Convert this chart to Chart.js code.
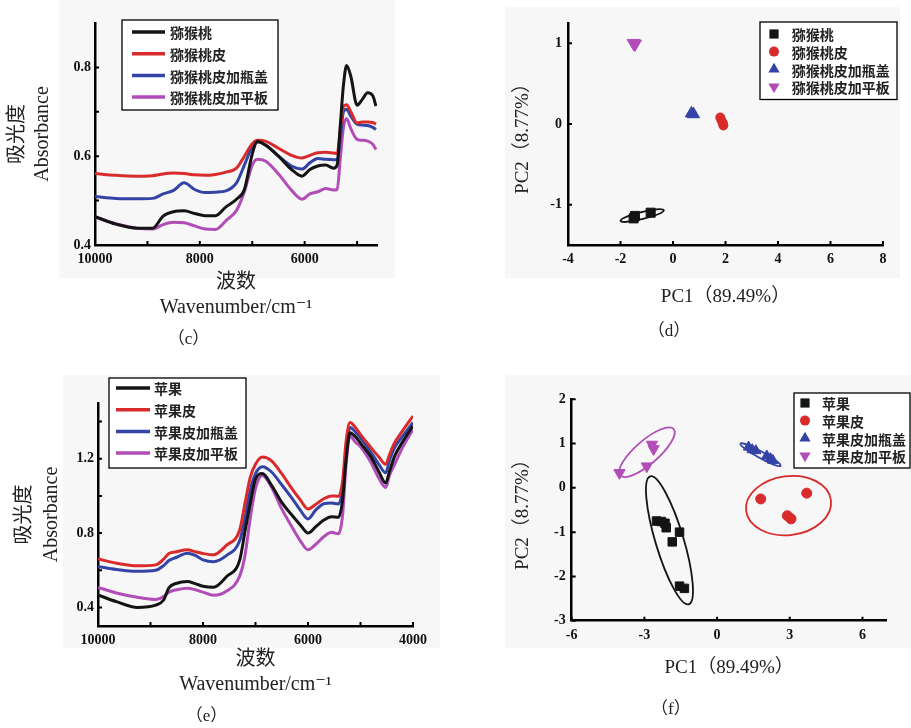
<!DOCTYPE html>
<html>
<head>
<meta charset="utf-8">
<script src="https://cdn.jsdelivr.net/npm/chart.js@4.4.1/dist/chart.umd.min.js"></script>
<style>
  body { margin: 0; background: #fff; width: 911px; height: 728px; position: relative; overflow: hidden; }
  canvas { position: absolute; }
</style>
</head>
<body>
<canvas id="panelC" width="455" height="360" style="left:0;top:0"></canvas>
<canvas id="panelD" width="456" height="360" style="left:455px;top:0"></canvas>
<canvas id="panelE" width="455" height="366" style="left:0;top:362px"></canvas>
<canvas id="panelF" width="456" height="366" style="left:455px;top:362px"></canvas>
<script>
// ---- (c) kiwi spectra ----
const cWave  = [10000, 9600, 9200, 8900, 8700, 8500, 8300, 8100, 7900, 7700, 7500, 7300, 7150, 7000, 6900, 6750, 6500, 6250, 6050, 5900, 5750, 5600, 5450, 5380, 5320, 5260, 5200, 5120, 5000, 4900, 4800, 4700, 4640];
const cKiwi  = [0.464, 0.447, 0.438, 0.438, 0.465, 0.475, 0.477, 0.471, 0.466, 0.466, 0.486, 0.503, 0.525, 0.605, 0.633, 0.625, 0.600, 0.570, 0.555, 0.570, 0.578, 0.580, 0.573, 0.580, 0.670, 0.760, 0.804, 0.780, 0.715, 0.728, 0.743, 0.736, 0.713];
const cPeel  = [0.561, 0.557, 0.555, 0.556, 0.560, 0.562, 0.561, 0.558, 0.557, 0.559, 0.564, 0.573, 0.600, 0.628, 0.636, 0.634, 0.618, 0.602, 0.596, 0.602, 0.608, 0.609, 0.607, 0.606, 0.660, 0.712, 0.716, 0.700, 0.675, 0.677, 0.677, 0.676, 0.672];
const cCap   = [0.509, 0.505, 0.504, 0.505, 0.515, 0.523, 0.540, 0.525, 0.518, 0.519, 0.522, 0.540, 0.580, 0.622, 0.632, 0.626, 0.600, 0.578, 0.571, 0.585, 0.595, 0.593, 0.592, 0.592, 0.640, 0.700, 0.706, 0.690, 0.672, 0.670, 0.669, 0.665, 0.660];
const cPlate = [0.463, 0.448, 0.438, 0.436, 0.446, 0.451, 0.450, 0.443, 0.436, 0.435, 0.455, 0.478, 0.520, 0.580, 0.593, 0.589, 0.560, 0.523, 0.503, 0.515, 0.520, 0.527, 0.524, 0.525, 0.595, 0.665, 0.685, 0.662, 0.638, 0.636, 0.634, 0.627, 0.615];
const cXTicks = [10000, 9000, 8000, 7000, 6000, 5000];
const cXMajor = [10000, 8000, 6000];
const cXLabels = ['10000', '8000', '6000'];
const cYTicks = [0.4, 0.5, 0.6, 0.7, 0.8];
const cYMajor = [0.4, 0.6, 0.8];
const cYLabels = ['0.4', '0.6', '0.8'];

// ---- (e) apple spectra ----
const eWave  = [10000, 9650, 9250, 8900, 8750, 8650, 8500, 8300, 8150, 8000, 7800, 7550, 7300, 7200, 7100, 7000, 6870, 6700, 6500, 6300, 6150, 6000, 5850, 5700, 5550, 5420, 5340, 5280, 5200, 5100, 5000, 4800, 4650, 4520, 4450, 4350, 4200, 4000];
const eApple = [0.467, 0.431, 0.400, 0.412, 0.440, 0.505, 0.530, 0.539, 0.528, 0.514, 0.508, 0.566, 0.656, 0.810, 0.960, 1.090, 1.120, 1.060, 0.965, 0.895, 0.845, 0.800, 0.835, 0.870, 0.888, 0.885, 0.980, 1.180, 1.340, 1.320, 1.284, 1.210, 1.130, 1.070, 1.130, 1.214, 1.290, 1.377];
const ePeel  = [0.661, 0.638, 0.624, 0.629, 0.660, 0.690, 0.700, 0.710, 0.700, 0.690, 0.683, 0.735, 0.818, 0.960, 1.100, 1.170, 1.209, 1.190, 1.120, 1.036, 0.980, 0.930, 0.955, 0.985, 1.000, 0.998, 1.080, 1.280, 1.395, 1.370, 1.330, 1.260, 1.210, 1.170, 1.220, 1.286, 1.350, 1.430];
const eCap   = [0.620, 0.604, 0.594, 0.600, 0.625, 0.652, 0.670, 0.692, 0.680, 0.656, 0.646, 0.680, 0.760, 0.880, 1.030, 1.120, 1.157, 1.130, 1.060, 0.985, 0.925, 0.876, 0.925, 0.958, 0.962, 0.957, 1.040, 1.230, 1.368, 1.345, 1.312, 1.235, 1.170, 1.124, 1.190, 1.260, 1.320, 1.395];
const ePlate = [0.508, 0.478, 0.455, 0.443, 0.458, 0.482, 0.495, 0.503, 0.495, 0.482, 0.465, 0.488, 0.570, 0.680, 0.880, 1.040, 1.110, 1.050, 0.930, 0.830, 0.760, 0.710, 0.740, 0.780, 0.804, 0.796, 0.900, 1.150, 1.322, 1.290, 1.265, 1.180, 1.095, 1.045, 1.110, 1.170, 1.260, 1.359];
const eXTicks = [10000, 9000, 8000, 7000, 6000, 5000, 4000];
const eXMajor = [10000, 8000, 6000, 4000];
const eXLabels = ['10000', '8000', '6000', '4000'];
const eYTicks = [0.4, 0.6, 0.8, 1.0, 1.2, 1.4];
const eYMajor = [0.4, 0.8, 1.2];
const eYLabels = ['0.4', '0.8', '1.2'];

// ---- (d) kiwi PCA scores ----
const dKiwiX  = [-1.50, -1.45, -0.85];
const dKiwiY  = [-1.17, -1.14, -1.10];
const dPeelX  = [1.80, 1.85, 1.92, 1.90];
const dPeelY  = [0.08, 0.04, -0.02, 0.01];
const dCapX   = [0.70, 0.78];
const dCapY   = [0.13, 0.12];
const dPlateX = [-1.50, -1.45];
const dPlateY = [1.00, 0.99];
const dXTicks = [-4, -2, 0, 2, 4, 6, 8];
const dXLabels = ['-4', '-2', '0', '2', '4', '6', '8'];
const dYTicks = [-1, 0, 1];
const dYLabels = ['-1', '0', '1'];
const dKiwiEllipse = [[-2.0, -1.2], [-0.35, -1.07], 0.16];

// ---- (f) apple PCA scores ----
const fAppleX = [-2.50, -2.30, -2.15, -2.10, -1.85, -1.55, -1.55, -1.35];
const fAppleY = [-0.75, -0.76, -0.80, -0.90, -1.22, -1.00, -2.22, -2.27];
const fPeelX  = [1.80, 3.70, 2.90, 3.05];
const fPeelY  = [-0.25, -0.12, -0.63, -0.70];
const fCapX   = [1.30, 1.45, 1.60, 2.05, 2.20, 2.30];
const fCapY   = [0.92, 0.86, 0.84, 0.72, 0.66, 0.62];
const fPlateX = [-4.03, -2.90, -2.69, -2.62];
const fPlateY = [0.34, 0.49, 0.98, 0.88];
const fXTicks = [-6, -3, 0, 3, 6];
const fXLabels = ['-6', '-3', '0', '3', '6'];
const fYTicks = [-3, -2, -1, 0, 1, 2];
const fYLabels = ['-3', '-2', '-1', '0', '1', '2'];
const fAppleEllipse = [[-2.76, 0.26], [-1.17, -2.63], 0.21];
const fPeelEllipse  = [[1.20, -0.52], [4.70, -0.28], 0.69];
const fCapEllipse   = [[0.96, 1.00], [2.62, 0.50], 0.14];
const fPlateEllipse = [[-4.00, 0.28], [-1.79, 1.33], 0.33];

const kiwiNames  = ['猕猴桃', '猕猴桃皮', '猕猴桃皮加瓶盖', '猕猴桃皮加平板'];
const appleNames = ['苹果', '苹果皮', '苹果皮加瓶盖', '苹果皮加平板'];

const BLACK = '#141414', RED = '#d92b2b', BLUE = '#3444a6', MAGENTA = '#b24db8';
const SERIF = '"Liberation Serif", "DejaVu Serif", "Noto Sans CJK SC", serif';
const CJK = '"Noto Sans CJK SC", sans-serif';

// helpers
function xy(xs, ys) { return xs.map((v, i) => ({ x: v, y: ys[i] })); }

function axis(o) {
  return {
    type: 'linear', min: o.min, max: o.max, reverse: !!o.reverse,
    afterFit: s => { if (s.isHorizontal()) s.height = o.size; else s.width = o.size; },
    afterBuildTicks: s => { s.ticks = o.ticks.map(v => ({ value: v })); },
    grid: { display: false, drawTicks: false },
    border: { color: '#000', width: 2.5 },
    ticks: {
      autoSkip: false, maxRotation: 0, padding: o.pad, color: '#111',
      font: { family: SERIF, size: 14, weight: 'bold' },
      callback: v => { const i = o.major.indexOf(v); return i < 0 ? '' : o.labels[i]; }
    },
    title: {
      display: true, text: o.title, color: '#222',
      font: { family: SERIF, size: o.fs || 20, lineHeight: o.lh + 'px' },
      padding: o.titlePad
    }
  };
}

// little inward tick marks on both axes
const inTicks = {
  id: 'inTicks',
  afterDraw(chart) {
    const { ctx, chartArea: a, scales: { x, y } } = chart;
    ctx.save();
    ctx.strokeStyle = '#000';
    ctx.lineWidth = 2;
    ctx.beginPath();
    x.ticks.forEach(t => { const p = x.getPixelForValue(t.value); ctx.moveTo(p, a.bottom); ctx.lineTo(p, a.bottom - 4); });
    y.ticks.forEach(t => { const p = y.getPixelForValue(t.value); ctx.moveTo(a.left, p); ctx.lineTo(a.left + 4, p); });
    ctx.stroke();
    ctx.restore();
  }
};

function panelBg(x0, y0, x1, y1) {
  return {
    id: 'panelBg',
    beforeDraw(chart) {
      const ctx = chart.ctx;
      ctx.save();
      ctx.fillStyle = '#f7f7f7';
      ctx.fillRect(x0, y0, x1 - x0, y1 - y0);
      ctx.restore();
    }
  };
}

function ellipses(list) {
  return {
    id: 'ellipses',
    afterDatasetsDraw(chart) {
      const { ctx, scales: { x, y } } = chart;
      ctx.save();
      ctx.lineWidth = 1.8;
      list.forEach(([e, color]) => {
        const ax = x.getPixelForValue(e[0][0]), ay = y.getPixelForValue(e[0][1]);
        const bx = x.getPixelForValue(e[1][0]), by = y.getPixelForValue(e[1][1]);
        const r = Math.hypot(bx - ax, by - ay) / 2;
        ctx.strokeStyle = color;
        ctx.beginPath();
        ctx.ellipse((ax + bx) / 2, (ay + by) / 2, r, r * e[2], Math.atan2(by - ay, bx - ax), 0, Math.PI * 2);
        ctx.stroke();
      });
      ctx.restore();
    }
  };
}

// boxed legend drawn inside the plot
function boxLegend(b) {
  return {
    id: 'boxLegend',
    afterDraw(chart) {
      const ctx = chart.ctx;
      ctx.save();
      ctx.fillStyle = '#fff';
      ctx.fillRect(b.x, b.y, b.w, b.h);
      ctx.strokeStyle = '#000';
      ctx.lineWidth = 1.3;
      ctx.strokeRect(b.x, b.y, b.w, b.h);
      ctx.font = 'bold 14px ' + CJK;
      ctx.textBaseline = 'middle';
      chart.data.datasets.forEach((ds, i) => {
        const yy = b.row0 + i * b.step;
        if (b.line) {
          ctx.strokeStyle = ds.borderColor;
          ctx.lineWidth = 3.5;
          ctx.beginPath();
          ctx.moveTo(b.mark0, yy);
          ctx.lineTo(b.mark1, yy);
          ctx.stroke();
        } else {
          ctx.fillStyle = ds.backgroundColor;
          ctx.strokeStyle = ds.backgroundColor;
          Chart.helpers.drawPoint(ctx, { pointStyle: ds.pointStyle, rotation: ds.pointRotation || 0, radius: ds.legendRadius, borderWidth: 0 }, b.mark0, yy);
        }
        ctx.fillStyle = '#222';
        ctx.fillText(ds.label, b.text, yy + 1);
      });
      ctx.restore();
    }
  };
}

function spectrum(label, wave, vals, color) {
  return { label, data: xy(wave, vals), borderColor: color, borderWidth: 3, pointRadius: 0, cubicInterpolationMode: 'monotone', fill: false };
}

function scores(label, xs, ys, color, style, rot, r, lr) {
  return { label, data: xy(xs, ys), backgroundColor: color, borderColor: color, pointStyle: style, pointRotation: rot, pointRadius: r, pointHoverRadius: r, legendRadius: lr };
}

function caption(text, pb) {
  return { display: true, position: 'bottom', text, color: '#222', font: { family: SERIF, size: 17, weight: 'normal', lineHeight: '20px' }, padding: { top: 0, bottom: pb } };
}

const common = { responsive: false, animation: false, events: [] };

// (c)
new Chart(document.getElementById('panelC'), {
  type: 'line',
  data: { datasets: [
    spectrum(kiwiNames[0], cWave, cKiwi, BLACK),
    spectrum(kiwiNames[1], cWave, cPeel, RED),
    spectrum(kiwiNames[2], cWave, cCap, BLUE),
    spectrum(kiwiNames[3], cWave, cPlate, MAGENTA)
  ] },
  options: { ...common,
    layout: { padding: { left: 0, top: 23, right: 78, bottom: 0 } },
    scales: {
      x: axis({ min: 4620, max: 10000, reverse: true, size: 85, ticks: cXTicks, major: cXMajor, labels: cXLabels, pad: 6,
                title: ['波数', 'Wavenumber/cm⁻¹'], lh: 25, titlePad: { top: 0, bottom: 9.5 } }),
      y: axis({ min: 0.4, max: 0.9, size: 95, ticks: cYTicks, major: cYMajor, labels: cYLabels, pad: 4,
                title: ['吸光度', 'Absorbance'], lh: 25, titlePad: { top: 5.5, bottom: 0 } })
    },
    plugins: { legend: { display: false }, tooltip: { enabled: false }, title: caption('（c）', 10) }
  },
  plugins: [panelBg(59, 0, 395, 278), inTicks, boxLegend({ x: 122, y: 20, w: 156, h: 90, row0: 32, step: 21.7, line: true, mark0: 132, mark1: 165, text: 170 })]
});

// (d)
new Chart(document.getElementById('panelD'), {
  type: 'scatter',
  data: { datasets: [
    scores(kiwiNames[0], dKiwiX, dKiwiY, BLACK, 'rect', 0, 6.4, 6.5),
    scores(kiwiNames[1], dPeelX, dPeelY, RED, 'circle', 0, 4.5, 5),
    scores(kiwiNames[2], dCapX, dCapY, BLUE, 'triangle', 0, 7, 6.5),
    scores(kiwiNames[3], dPlateX, dPlateY, MAGENTA, 'triangle', 180, 7.5, 6.5)
  ] },
  options: { ...common,
    layout: { padding: { left: 0, top: 23, right: 28, bottom: 0 } },
    scales: {
      x: axis({ min: -4, max: 8, size: 77, ticks: dXTicks, major: dXTicks, labels: dXLabels, pad: 6, fs: 19,
                title: 'PC1（89.49%）', lh: 22, titlePad: { top: 0, bottom: 14 } }),
      y: axis({ min: -1.5, max: 1.25, size: 113, ticks: dYTicks, major: dYTicks, labels: dYLabels, pad: 6, fs: 19,
                title: 'PC2（8.77%）', lh: 22, titlePad: { top: 57, bottom: 0 } })
    },
    plugins: { legend: { display: false }, tooltip: { enabled: false }, title: caption('（d）', 18) }
  },
  plugins: [panelBg(50, 7, 445, 278), inTicks, ellipses([[dKiwiEllipse, BLACK]]),
            boxLegend({ x: 305, y: 22, w: 137, h: 77.5, row0: 34, step: 17.6, line: false, mark0: 319, text: 336.7 })]
});

// (e)
new Chart(document.getElementById('panelE'), {
  type: 'line',
  data: { datasets: [
    spectrum(appleNames[0], eWave, eApple, BLACK),
    spectrum(appleNames[1], eWave, ePeel, RED),
    spectrum(appleNames[2], eWave, eCap, BLUE),
    spectrum(appleNames[3], eWave, ePlate, MAGENTA)
  ] },
  options: { ...common,
    layout: { padding: { left: 0, top: 41, right: 42, bottom: 0 } },
    scales: {
      x: axis({ min: 4000, max: 10000, reverse: true, size: 81, ticks: eXTicks, major: eXMajor, labels: eXLabels, pad: 6,
                title: ['波数', 'Wavenumber/cm⁻¹'], lh: 25, titlePad: { top: 0, bottom: 9.5 } }),
      y: axis({ min: 0.3, max: 1.5, size: 98, ticks: eYTicks, major: eYMajor, labels: eYLabels, pad: 4,
                title: ['吸光度', 'Absorbance'], lh: 27, titlePad: { top: 11.5, bottom: 0 } })
    },
    plugins: { legend: { display: false }, tooltip: { enabled: false }, title: caption('（e）', 1) }
  },
  plugins: [panelBg(63, 13, 440, 286), inTicks, boxLegend({ x: 109, y: 16, w: 137, h: 90, row0: 26, step: 21.7, line: true, mark0: 116, mark1: 150, text: 154 })]
});

// (f)
new Chart(document.getElementById('panelF'), {
  type: 'scatter',
  data: { datasets: [
    scores(appleNames[0], fAppleX, fAppleY, BLACK, 'rect', 0, 6, 6.5),
    scores(appleNames[1], fPeelX, fPeelY, RED, 'circle', 0, 5, 5),
    scores(appleNames[2], fCapX, fCapY, BLUE, 'triangle', 0, 6, 6.5),
    scores(appleNames[3], fPlateX, fPlateY, MAGENTA, 'triangle', 180, 6.5, 6.5)
  ] },
  options: { ...common,
    layout: { padding: { left: 0, top: 37.3, right: 24.3, bottom: 0 } },
    scales: {
      x: axis({ min: -6, max: 7, size: 79.3, ticks: fXTicks, major: fXTicks, labels: fXLabels, pad: 6, fs: 19,
                title: 'PC1（89.49%）', lh: 22, titlePad: { top: 0, bottom: 21 } }),
      y: axis({ min: -3, max: 2, size: 116.7, ticks: fYTicks, major: fYTicks, labels: fYLabels, pad: 6, fs: 19,
                title: 'PC2（8.77%）', lh: 22, titlePad: { top: 57, bottom: 0 } })
    },
    plugins: { legend: { display: false }, tooltip: { enabled: false }, title: caption('（f）', 8) }
  },
  plugins: [panelBg(50, 13, 456, 286), inTicks,
            ellipses([[fAppleEllipse, BLACK], [fPeelEllipse, RED], [fCapEllipse, BLUE], [fPlateEllipse, MAGENTA]]),
            boxLegend({ x: 339, y: 31, w: 116, h: 75, row0: 41, step: 17.6, line: false, mark0: 350, text: 367 })]
});
</script>
</body>
</html>
